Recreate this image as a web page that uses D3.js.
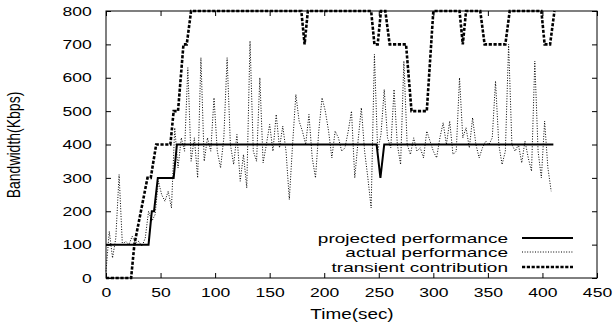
<!DOCTYPE html>
<html>
<head>
<meta charset="utf-8">
<script src="https://cdn.jsdelivr.net/npm/d3@7"></script>
<style>
  body { margin: 0; background: #fff; }
  text { font-family: "Liberation Sans", Arial, sans-serif; fill: #000; }
</style>
</head>
<body>
<svg id="chart" width="616" height="326"></svg>
<script>
// tick values
var xTicks = d3.range(0, 451, 50);
var yTicks = d3.range(0, 801, 100);

// projected performance (step curve)
var projTime  = [0, 39, 42, 44, 47.5, 62, 65, 248, 251.5, 255, 410];
var projValue = [100, 100, 200, 200, 300, 300, 400, 400, 300, 400, 400];

// transient contribution
var transTime  = [0, 23, 26, 38, 41, 46, 59, 62, 66, 71, 74, 78, 179, 182, 185, 243, 246, 249, 252, 256, 260, 275, 280, 294, 300, 324, 327, 330, 343, 347, 366, 370, 399, 402, 407, 411];
var transValue = [0, 0, 100, 300, 300, 400, 400, 500, 500, 700, 700, 800, 800, 700, 800, 800, 700, 700, 800, 800, 700, 700, 500, 500, 800, 800, 700, 800, 800, 700, 700, 800, 800, 700, 700, 800];

// actual performance, one sample every 3 s
var actualTime = d3.range(0, 409, 3);
var actualValue = [
  20, 140, 60, 120, 310, 100, 110, 100, 125, 105,
  110, 95, 120, 200, 170, 190, 290, 250, 230, 260,
  210, 450, 330, 420, 380, 630, 350, 420, 300, 660,
  350, 420, 380, 540, 380, 330, 420, 660, 400, 340,
  430, 290, 370, 270, 710, 380, 350, 600, 345, 400,
  460, 380, 490, 390, 455, 380, 235, 400, 550, 470,
  440, 400, 490, 360, 300, 440, 540, 500, 440, 360,
  440, 420, 380, 390, 440, 500, 300, 410, 510, 380,
  300, 210, 670, 380, 430, 565, 420, 390, 565, 400,
  340, 650, 400, 370, 420, 380, 390, 360, 440, 410,
  380, 360, 420, 465, 400, 470, 370, 380, 600, 420,
  450, 390, 480, 400, 360, 390, 410, 400, 420, 590,
  400, 340, 380, 700, 400, 380, 400, 345, 410, 360,
  320, 650, 380, 300, 470, 330, 260
];

var legendNames = ["projected performance", "actual performance", "transient contribution"];

(function () {
  var svg = d3.select("#chart"),
      plotLeft = 106, plotRight = 597, plotTop = 11, plotBottom = 278,
      stretch = 1.35;

  var x = d3.scaleLinear().domain([0, 450]).range([plotLeft, plotRight]);
  var y = d3.scaleLinear().domain([0, 800]).range([plotBottom, plotTop]);

  var styles = [
    {width: 2, dash: null},
    {width: 1, dash: "1,1.6"},
    {width: 2.6, dash: "3.2,1.6"}
  ];

  // axes: ticks on all four sides, pointing inward
  var gx = svg.append("g").attr("transform", "translate(0," + plotBottom + ")")
    .call(d3.axisBottom(x).tickValues(xTicks).tickSizeInner(-5).tickSizeOuter(0).tickPadding(10));
  svg.append("g").attr("transform", "translate(0," + plotTop + ")")
    .call(d3.axisTop(x).tickValues(xTicks).tickSizeInner(-5).tickSizeOuter(0).tickFormat(""));
  var gy = svg.append("g").attr("transform", "translate(" + plotLeft + ",0)")
    .call(d3.axisLeft(y).tickValues(yTicks).tickSizeInner(-5).tickSizeOuter(0).tickPadding(10.5));
  svg.append("g").attr("transform", "translate(" + plotRight + ",0)")
    .call(d3.axisRight(y).tickValues(yTicks).tickSizeInner(-5).tickSizeOuter(0).tickFormat(""));

  svg.selectAll(".domain").remove();
  svg.selectAll(".tick line").attr("stroke", "#000");
  [gx, gy].forEach(function (g) {
    g.selectAll("text")
      .attr("font-size", 13)
      .attr("font-family", "Liberation Sans, Arial, sans-serif")
      .attr("fill", "#000")
      .attr("transform", "scale(" + stretch + ",1)");
  });

  // frame
  svg.append("rect")
    .attr("x", plotLeft).attr("y", plotTop)
    .attr("width", plotRight - plotLeft).attr("height", plotBottom - plotTop)
    .attr("fill", "none").attr("stroke", "#000").attr("stroke-width", 1);

  // series
  var line = d3.line()
    .x(function (d) { return x(d[0]); })
    .y(function (d) { return y(d[1]); });

  var series = [
    d3.zip(projTime, projValue),
    d3.zip(actualTime, actualValue),
    d3.zip(transTime, transValue)
  ];

  series.forEach(function (data, i) {
    svg.append("path")
      .datum(data)
      .attr("fill", "none")
      .attr("stroke", "#000")
      .attr("stroke-width", styles[i].width)
      .attr("stroke-dasharray", styles[i].dash)
      .attr("d", line);
  });

  // legend
  var legendRows = [238, 252, 267];
  legendNames.forEach(function (name, i) {
    svg.append("g")
      .attr("transform", "translate(508," + (legendRows[i] + 5) + ") scale(1.44,1)")
      .append("text")
      .attr("text-anchor", "end")
      .attr("font-size", 13.2)
      .text(name);
    svg.append("line")
      .attr("x1", 522).attr("x2", 573)
      .attr("y1", legendRows[i]).attr("y2", legendRows[i])
      .attr("stroke", "#000")
      .attr("stroke-width", styles[i].width)
      .attr("stroke-dasharray", styles[i].dash);
  });

  // axis titles
  svg.append("g")
    .attr("transform", "translate(352,319) scale(" + stretch + ",1)")
    .append("text")
    .attr("text-anchor", "middle")
    .attr("font-size", 14)
    .text("Time(sec)");

  svg.append("g")
    .attr("transform", "translate(20,145) rotate(-90) scale(1," + stretch + ")")
    .append("text")
    .attr("text-anchor", "middle")
    .attr("font-size", 14)
    .text("Bandwidth(Kbps)");
})();
</script>
</body>
</html>
